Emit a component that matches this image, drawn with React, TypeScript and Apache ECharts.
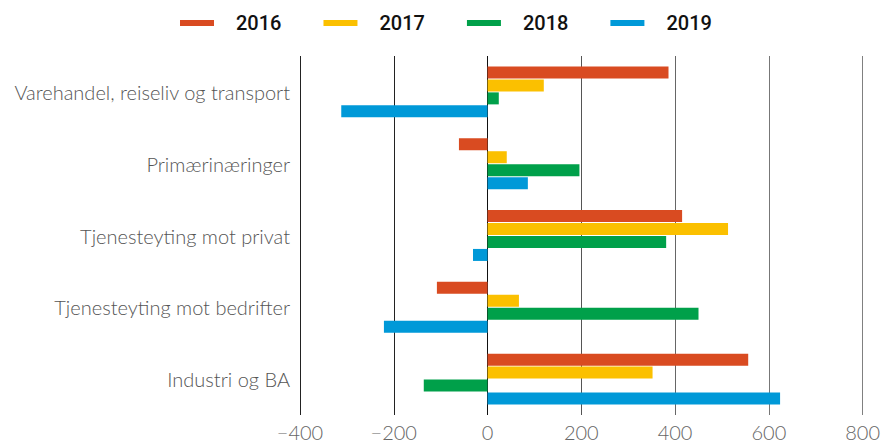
import React, { useEffect, useRef } from "react";
import * as echarts from "echarts";

const categories = [
  "Varehandel, reiseliv og transport",
  "Primærinæringer",
  "Tjenesteyting mot privat",
  "Tjenesteyting mot bedrifter",
  "Industri og BA",
];
const years = ["2016", "2017", "2018", "2019"];
const v2016 = [386, -61, 415, -108, 556];
const v2017 = [120, 41, 513, 67, 352];
const v2018 = [24, 196, 381, 450, -136];
const v2019 = [-312, 86, -31, -221, 624];
const colors = ["#D94B21", "#FBC000", "#00A04A", "#0099D8"];

export default function App() {
  const ref = useRef<HTMLDivElement>(null);
  useEffect(() => {
    const chart = echarts.init(ref.current!, undefined, { renderer: "svg" });
    const data = [v2016, v2017, v2018, v2019];
    chart.setOption({
      animation: false,
      color: colors,
      legend: {
        top: 13,
        left: 180,
        padding: 0,
        itemWidth: 34,
        itemHeight: 6,
        itemGap: 42,
        icon: "rect",
        textStyle: {
          fontFamily: "Roboto, sans-serif",
          fontWeight: 500,
          fontSize: 20,
          color: "#111",
          padding: [0, 0, 0, 17],
        },
        data: years,
      },
      grid: { left: 300, right: 18, top: 56, bottom: 29, containLabel: false },
      xAxis: {
        type: "value",
        min: -400,
        max: 800,
        interval: 200,
        axisLine: { show: false },
        axisTick: { show: false },
        splitLine: {
          show: true,
          lineStyle: {
            color: ["#222", "#222", "#111", "#555", "#666", "#777", "#808080"],
            width: 1,
          },
        },
        axisLabel: {
          color: "#666",
          fontSize: 20,
          fontFamily: "Lato, sans-serif",
          fontWeight: 300,
          margin: 7,
          formatter: (v: number) => String(v).replace("-", "\u2212"),
        },
      },
      yAxis: {
        type: "category",
        inverse: true,
        data: categories,
        axisLine: { show: false },
        axisTick: { show: false },
        axisLabel: {
          color: "#555",
          fontSize: 20,
          fontFamily: "Lato, sans-serif",
          fontWeight: 300,
          margin: 10,
          padding: [0, 0, 6, 0],
        },
      },
      series: years.map((y, i) => ({
        name: y,
        type: "bar",
        data: data[i],
        barWidth: 12,
        barGap: "8%",
        itemStyle: { color: colors[i] },
      })),
    });
    return () => chart.dispose();
  }, []);
  return <div ref={ref} style={{ width: 883, height: 444, position: "absolute", left: 0, top: 0 }} />;
}
